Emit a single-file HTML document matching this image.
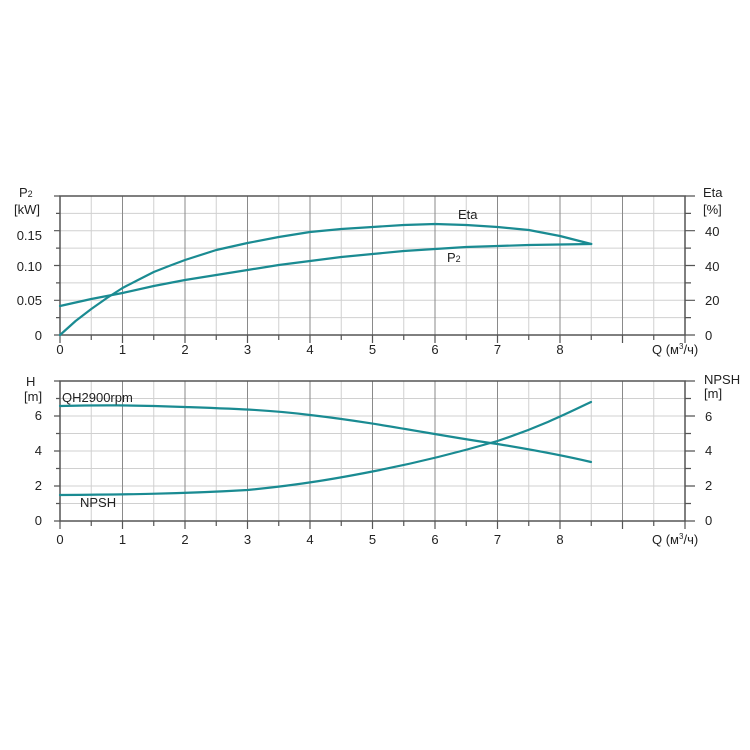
<!DOCTYPE html>
<html><head><meta charset="utf-8"><style>
html,body{margin:0;padding:0;background:#fff;}
svg{display:block;font-family:"Liberation Sans",sans-serif;}
</style></head><body>
<svg width="750" height="750" viewBox="0 0 750 750" xmlns="http://www.w3.org/2000/svg">
<g id="grid" stroke-width="1">
<g stroke="#d0d0d0">
<line x1="91.25" y1="196" x2="91.25" y2="335"/><line x1="153.75" y1="196" x2="153.75" y2="335"/><line x1="216.25" y1="196" x2="216.25" y2="335"/><line x1="278.75" y1="196" x2="278.75" y2="335"/><line x1="341.25" y1="196" x2="341.25" y2="335"/><line x1="403.75" y1="196" x2="403.75" y2="335"/><line x1="466.25" y1="196" x2="466.25" y2="335"/><line x1="528.75" y1="196" x2="528.75" y2="335"/><line x1="591.25" y1="196" x2="591.25" y2="335"/><line x1="653.75" y1="196" x2="653.75" y2="335"/>
<line x1="91.25" y1="381" x2="91.25" y2="521"/><line x1="153.75" y1="381" x2="153.75" y2="521"/><line x1="216.25" y1="381" x2="216.25" y2="521"/><line x1="278.75" y1="381" x2="278.75" y2="521"/><line x1="341.25" y1="381" x2="341.25" y2="521"/><line x1="403.75" y1="381" x2="403.75" y2="521"/><line x1="466.25" y1="381" x2="466.25" y2="521"/><line x1="528.75" y1="381" x2="528.75" y2="521"/><line x1="591.25" y1="381" x2="591.25" y2="521"/><line x1="653.75" y1="381" x2="653.75" y2="521"/>
<line x1="60" y1="213.4" x2="685" y2="213.4"/><line x1="60" y1="230.7" x2="685" y2="230.7"/><line x1="60" y1="248.1" x2="685" y2="248.1"/><line x1="60" y1="265.5" x2="685" y2="265.5"/><line x1="60" y1="282.9" x2="685" y2="282.9"/><line x1="60" y1="300.3" x2="685" y2="300.3"/><line x1="60" y1="317.6" x2="685" y2="317.6"/>
<line x1="60" y1="398.5" x2="685" y2="398.5"/><line x1="60" y1="416" x2="685" y2="416"/><line x1="60" y1="433.5" x2="685" y2="433.5"/><line x1="60" y1="451" x2="685" y2="451"/><line x1="60" y1="468.5" x2="685" y2="468.5"/><line x1="60" y1="486" x2="685" y2="486"/><line x1="60" y1="503.5" x2="685" y2="503.5"/>
</g>
<g stroke="#8a8a8a">
<line x1="122.5" y1="196" x2="122.5" y2="335"/><line x1="185" y1="196" x2="185" y2="335"/><line x1="247.5" y1="196" x2="247.5" y2="335"/><line x1="310" y1="196" x2="310" y2="335"/><line x1="372.5" y1="196" x2="372.5" y2="335"/><line x1="435" y1="196" x2="435" y2="335"/><line x1="497.5" y1="196" x2="497.5" y2="335"/><line x1="560" y1="196" x2="560" y2="335"/><line x1="622.5" y1="196" x2="622.5" y2="335"/>
<line x1="122.5" y1="381" x2="122.5" y2="521"/><line x1="185" y1="381" x2="185" y2="521"/><line x1="247.5" y1="381" x2="247.5" y2="521"/><line x1="310" y1="381" x2="310" y2="521"/><line x1="372.5" y1="381" x2="372.5" y2="521"/><line x1="435" y1="381" x2="435" y2="521"/><line x1="497.5" y1="381" x2="497.5" y2="521"/><line x1="560" y1="381" x2="560" y2="521"/><line x1="622.5" y1="381" x2="622.5" y2="521"/>
</g>
</g>
<g stroke="#555" stroke-width="1.5" fill="none">
<rect x="60" y="196" width="625" height="139"/>
<rect x="60" y="381" width="625" height="140"/>
</g>
<g stroke="#555" stroke-width="1.2">
<path d="M60 335v8M91.25 335v5M122.5 335v8M153.75 335v5M185 335v8M216.25 335v5M247.5 335v8M278.75 335v5M310 335v8M341.25 335v5M372.5 335v8M403.75 335v5M435 335v8M466.25 335v5M497.5 335v8M528.75 335v5M560 335v8M591.25 335v5M622.5 335v8M653.75 335v5M685 335v8"/>
<path d="M60 521v8M91.25 521v5M122.5 521v8M153.75 521v5M185 521v8M216.25 521v5M247.5 521v8M278.75 521v5M310 521v8M341.25 521v5M372.5 521v8M403.75 521v5M435 521v8M466.25 521v5M497.5 521v8M528.75 521v5M560 521v8M591.25 521v5M622.5 521v8M653.75 521v5M685 521v8"/>
<path d="M685 196h10M685 213.4h6M685 230.7h10M685 248.1h6M685 265.5h10M685 282.9h6M685 300.3h10M685 317.6h6M685 335h10"/>
<path d="M685 381h10M685 398.5h6M685 416h10M685 433.5h6M685 451h10M685 468.5h6M685 486h10M685 503.5h6M685 521h10"/>
<path d="M60 196h-6M60 213.4h-4M60 230.7h-6M60 248.1h-4M60 265.5h-6M60 282.9h-4M60 300.3h-6M60 317.6h-4M60 335h-6"/>
<path d="M60 381h-6M60 398.5h-4M60 416h-6M60 433.5h-4M60 451h-6M60 468.5h-4M60 486h-6M60 503.5h-4M60 521h-6"/>
</g>
<g fill="none" stroke="#1a8b92" stroke-width="2.2" stroke-linecap="round" stroke-linejoin="round">
<polyline points="60,335 75.6,321 91.25,309 106.9,298 122.5,288 138,280 153.75,272 169,266 185,260 216.25,250 247.5,243 278.75,237 310,232 341.25,229 372.5,227 403.75,225 435,224 466.25,225 497.5,227 528.75,230 560,236 591.25,244"/>
<polyline points="60,306 91.25,299 122.5,293 153.75,286 185,280 216.25,275 247.5,270 278.75,265 310,261 341.25,257 372.5,254 403.75,251 435,249 466.25,247 497.5,246 528.75,245 560,244.5 591.25,244"/>
<path d="M60 406 C100 405 130 405 185 407 C240 409 270 410 310 415 C380 423 440 436 497.5 444 C540 451 570 457 591 462"/>
<path d="M60 495 C120 494.5 180 494 247.5 490 C300 485 340 478 380 470 C430 460 470 449 497.5 441 C540 427 570 412 591 402"/>
</g>
<g font-size="13" fill="#222">
<text x="19" y="197">P<tspan font-size="9">2</tspan></text>
<text x="14" y="214">[kW]</text>
<g text-anchor="end">
<text x="42" y="240">0.15</text><text x="42" y="271">0.10</text><text x="42" y="305">0.05</text><text x="42" y="340">0</text>
<text x="42" y="420">6</text><text x="42" y="455">4</text><text x="42" y="490">2</text><text x="42" y="525">0</text>
</g>
<text x="26" y="386">H</text>
<text x="24" y="401">[m]</text>
<text x="703" y="197">Eta</text>
<text x="703" y="214">[%]</text>
<text x="705" y="236">40</text><text x="705" y="271">40</text><text x="705" y="305">20</text><text x="705" y="340">0</text>
<text x="704" y="384">NPSH</text>
<text x="704" y="398">[m]</text>
<text x="705" y="421">6</text><text x="705" y="455">4</text><text x="705" y="490">2</text><text x="705" y="525">0</text>
<g text-anchor="middle">
<text x="60" y="354">0</text><text x="122.5" y="354">1</text><text x="185" y="354">2</text><text x="247.5" y="354">3</text><text x="310" y="354">4</text><text x="372.5" y="354">5</text><text x="435" y="354">6</text><text x="497.5" y="354">7</text><text x="560" y="354">8</text>
<text x="60" y="544">0</text><text x="122.5" y="544">1</text><text x="185" y="544">2</text><text x="247.5" y="544">3</text><text x="310" y="544">4</text><text x="372.5" y="544">5</text><text x="435" y="544">6</text><text x="497.5" y="544">7</text><text x="560" y="544">8</text>
</g>
<text x="652" y="354">Q (м<tspan font-size="8" dy="-5">3</tspan><tspan dy="5">/ч)</tspan></text>
<text x="652" y="544">Q (м<tspan font-size="8" dy="-5">3</tspan><tspan dy="5">/ч)</tspan></text>
<text x="458" y="219">Eta</text>
<text x="447" y="262">P<tspan font-size="9">2</tspan></text>
<text x="62" y="402">QH2900rpm</text>
<text x="80" y="507">NPSH</text>
</g>
</svg>
</body></html>
